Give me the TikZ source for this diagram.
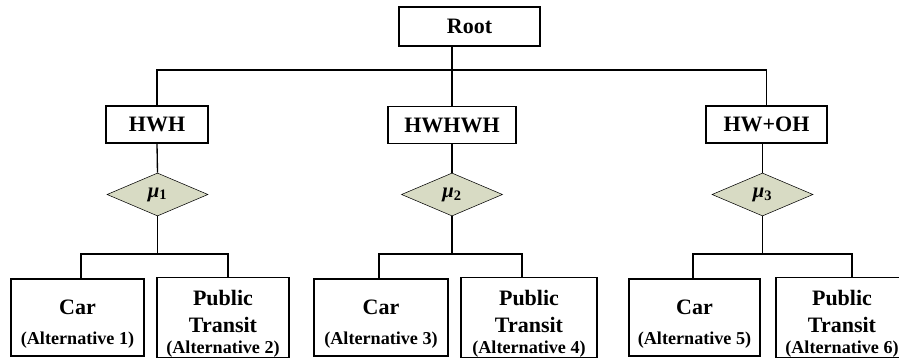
\documentclass[tikz,border=0pt]{standalone}
\usepackage{fontspec}
\setmainfont{Liberation Serif}
\usetikzlibrary{shapes.geometric}
\definecolor{nestfill}{RGB}{216,219,196}
\newcommand{\altno}[1]{{\fontsize{13.6}{15}\selectfont (Alternative #1)}}
\newcommand{\mulab}[1]{{\itshape μ}\textsubscript{\upshape #1}}

\begin{document}
\begin{tikzpicture}[x=0.75pt,y=-0.75pt]
    \tikzset{block/.style= {draw, rectangle
    , line width=1.1pt
    , inner sep=0pt
    , minimum height=28pt
    , align=center
    , font=\fontsize{16.5}{20}\selectfont\bfseries
      }
    , altblock/.style= {block
    , minimum height=57.75pt
      }
    , nest/.style= {draw, diamond
    , fill=nestfill
    , inner sep=0pt
    , minimum width=75.75pt
    , minimum height=32.25pt
    , font=\fontsize{15.5}{18}\selectfont\bfseries
      }
    }
\useasboundingbox (0,0) rectangle (899,359);

\node [block, minimum width=105.75pt, minimum height=29.25pt] (root) at (469.5,26.5) {Root};
\node [block, minimum width=76.5pt] (hwh) at (157,124.5) {HWH};
\node [block, minimum width=96pt] (hwhwh) at (452,125) {HWHWH};
\node [block, minimum width=90.75pt] (hwoh) at (766.5,124.5) {HW+OH};

\node [nest] (nest1) at (157.5,194.5) {\mulab{1}};
\node [nest] (nest2) at (452,194.5) {\mulab{2}};
\node [nest] (nest3) at (762.5,194.5) {\mulab{3}};

\node [altblock, minimum width=99.75pt] (car1) at (77.5,317.5) {\rule{0pt}{21pt}Car\\[3pt]\altno{1}};
\node [altblock, minimum width=99pt] (pt2) at (223,317.5) {\rule{0pt}{21pt}Public\\Transit\\[-4pt]\altno{2}};
\node [altblock, minimum width=100.5pt] (car3) at (381,317.5) {\rule{0pt}{21pt}Car\\[3pt]\altno{3}};
\node [altblock, minimum width=102pt] (pt4) at (529,317.5) {\rule{0pt}{21pt}Public\\Transit\\[-4pt]\altno{4}};
\node [altblock, minimum width=98.25pt] (car5) at (694.5,317.5) {\rule{0pt}{21pt}Car\\[3pt]\altno{5}};
\node [altblock, minimum width=99pt] (pt6) at (842,317.5) {\rule{0pt}{21pt}Public\\Transit\\[-4pt]\altno{6}};

% bus lines
\coordinate (bar) at (0,70);
\coordinate (low) at (0,254);

 \path[draw, line width=1pt]
  (hwhwh.north |- root.south) -- (hwhwh.north);
 \path[draw, line width=1pt]
  (hwh.north) -- (hwh.north |- bar) -- (hwoh.north |- bar) -- (hwoh.north);
 \path[draw, line width=1pt] (hwh.south) -- (nest1.north);
 \path[draw, line width=1pt] (nest2.north |- hwhwh.south) -- (nest2.north);
 \path[draw, line width=1pt] (nest3.north |- hwoh.south) -- (nest3.north);

 \path[draw, line width=1pt] (nest1.south) -- (nest1.south |- low);
 \path[draw, line width=1pt]
  ([xshift=2.6pt]car1.north) |- ([xshift=3.8pt]pt2.north |- low) -- ([xshift=3.8pt]pt2.north);
 \path[draw, line width=1pt] (nest2.south) -- (nest2.south |- low);
 \path[draw, line width=1pt]
  ([xshift=-1.5pt]car3.north) |- ([xshift=-5.25pt]pt4.north |- low) -- ([xshift=-5.25pt]pt4.north);
 \path[draw, line width=1pt] (nest3.south) -- (nest3.south |- low);
 \path[draw, line width=1pt]
  ([xshift=-1.1pt]car5.north) |- ([xshift=7.5pt]pt6.north |- low) -- ([xshift=7.5pt]pt6.north);
\end{tikzpicture}
\end{document}
